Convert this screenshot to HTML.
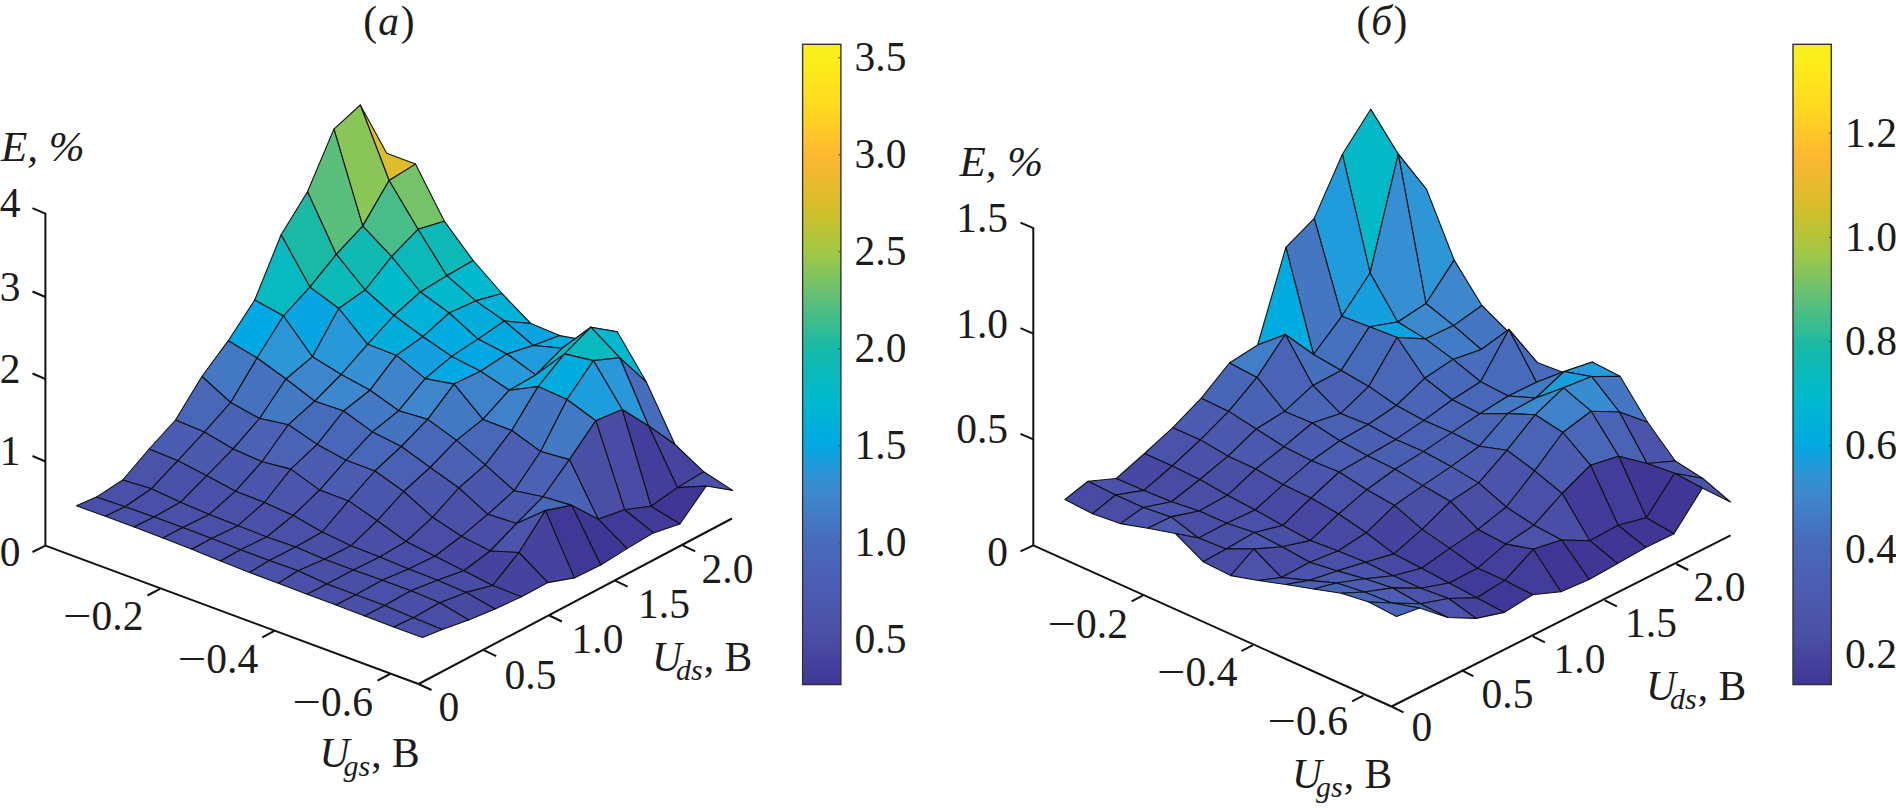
<!DOCTYPE html>
<html><head><meta charset="utf-8"><title>fig</title>
<style>html,body{margin:0;padding:0;background:#fff}svg{display:block}
text{font-family:"Liberation Serif",serif;font-size:41.5px;fill:#1c1c1c}</style></head><body>
<svg width="1896" height="810" viewBox="0 0 1896 810">
<defs><linearGradient id="ga" x1="0" y1="1" x2="0" y2="0"><stop offset="0.000" stop-color="rgb(63,54,149)"/><stop offset="0.025" stop-color="rgb(67,62,155)"/><stop offset="0.050" stop-color="rgb(71,70,160)"/><stop offset="0.075" stop-color="rgb(74,78,166)"/><stop offset="0.100" stop-color="rgb(75,83,169)"/><stop offset="0.125" stop-color="rgb(75,88,173)"/><stop offset="0.150" stop-color="rgb(76,93,177)"/><stop offset="0.175" stop-color="rgb(74,97,180)"/><stop offset="0.200" stop-color="rgb(73,102,183)"/><stop offset="0.225" stop-color="rgb(71,107,186)"/><stop offset="0.250" stop-color="rgb(68,117,193)"/><stop offset="0.275" stop-color="rgb(65,127,199)"/><stop offset="0.300" stop-color="rgb(60,137,206)"/><stop offset="0.325" stop-color="rgb(49,146,212)"/><stop offset="0.350" stop-color="rgb(26,157,220)"/><stop offset="0.375" stop-color="rgb(0,169,227)"/><stop offset="0.400" stop-color="rgb(0,174,219)"/><stop offset="0.425" stop-color="rgb(0,180,212)"/><stop offset="0.450" stop-color="rgb(1,185,204)"/><stop offset="0.475" stop-color="rgb(7,185,192)"/><stop offset="0.500" stop-color="rgb(14,185,180)"/><stop offset="0.525" stop-color="rgb(23,185,168)"/><stop offset="0.550" stop-color="rgb(46,187,153)"/><stop offset="0.575" stop-color="rgb(69,189,138)"/><stop offset="0.600" stop-color="rgb(93,190,123)"/><stop offset="0.625" stop-color="rgb(116,194,104)"/><stop offset="0.650" stop-color="rgb(139,197,86)"/><stop offset="0.675" stop-color="rgb(162,200,69)"/><stop offset="0.700" stop-color="rgb(180,196,59)"/><stop offset="0.725" stop-color="rgb(198,193,49)"/><stop offset="0.750" stop-color="rgb(216,190,40)"/><stop offset="0.775" stop-color="rgb(229,187,44)"/><stop offset="0.800" stop-color="rgb(241,184,47)"/><stop offset="0.825" stop-color="rgb(253,183,49)"/><stop offset="0.850" stop-color="rgb(254,194,43)"/><stop offset="0.875" stop-color="rgb(254,205,36)"/><stop offset="0.900" stop-color="rgb(255,216,30)"/><stop offset="0.925" stop-color="rgb(254,223,28)"/><stop offset="0.950" stop-color="rgb(253,231,27)"/><stop offset="0.975" stop-color="rgb(252,238,25)"/><stop offset="1.000" stop-color="rgb(248,240,30)"/></linearGradient></defs>
<rect width="1896" height="810" fill="#fff"/>
<g stroke="#111" stroke-width="2" stroke-linecap="butt" fill="none">
<line x1="45.4" y1="213.0" x2="45.4" y2="545.6"/>
<line x1="45.4" y1="213.6" x2="32.5" y2="208.1"/>
<line x1="45.4" y1="297.0" x2="32.5" y2="291.5"/>
<line x1="45.4" y1="379.0" x2="32.5" y2="373.5"/>
<line x1="45.4" y1="461.5" x2="32.5" y2="456.0"/>
<line x1="45.4" y1="545.6" x2="32.5" y2="552.0"/>
<line x1="45.4" y1="545.6" x2="418.6" y2="684.0"/>
<line x1="160.0" y1="588.9" x2="147.5" y2="595.5"/>
<line x1="274.8" y1="630.7" x2="262.3" y2="637.3"/>
<line x1="390.0" y1="674.0" x2="377.5" y2="680.6"/>
<line x1="418.6" y1="684.0" x2="431.5" y2="690.0"/>
<line x1="418.6" y1="684.0" x2="732.0" y2="518.5"/>
<line x1="483.7" y1="650.1" x2="496.2" y2="656.1"/>
<line x1="549.4" y1="615.5" x2="561.9" y2="621.5"/>
<line x1="615.1" y1="580.6" x2="627.6" y2="586.6"/>
<line x1="682.7" y1="545.3" x2="695.2" y2="551.3"/>
<line x1="1033.3" y1="227.5" x2="1033.3" y2="545.3"/>
<line x1="1033.3" y1="228.1" x2="1020.5" y2="222.6"/>
<line x1="1033.3" y1="333.7" x2="1020.5" y2="328.2"/>
<line x1="1033.3" y1="439.3" x2="1020.5" y2="433.8"/>
<line x1="1033.3" y1="545.3" x2="1020.5" y2="551.3"/>
<line x1="1033.3" y1="545.3" x2="1391.5" y2="706.5"/>
<line x1="1143.1" y1="595.4" x2="1131.6" y2="601.4"/>
<line x1="1252.9" y1="645.2" x2="1241.4" y2="651.2"/>
<line x1="1363.6" y1="695.4" x2="1352.1" y2="701.4"/>
<line x1="1391.5" y1="706.5" x2="1403.5" y2="712.4"/>
<line x1="1391.5" y1="706.5" x2="1730.6" y2="535.3"/>
<line x1="1461.3" y1="670.1" x2="1473.3" y2="676.1"/>
<line x1="1532.9" y1="636.3" x2="1544.9" y2="642.3"/>
<line x1="1604.8" y1="600.3" x2="1616.8" y2="606.3"/>
<line x1="1676.3" y1="564.0" x2="1688.3" y2="570.0"/>
</g>
<g stroke="#111" stroke-width="1.1" stroke-linejoin="round">
<polygon points="360.3,105.0 386.7,153.2 415.5,164.1 389.1,180.5" fill="rgb(223,188,42)"/>
<polygon points="333.9,129.1 360.3,105.0 389.1,180.5 362.7,226.1" fill="rgb(138,197,87)"/>
<polygon points="307.5,191.8 333.9,129.1 362.7,226.1 336.3,254.4" fill="rgb(90,190,125)"/>
<polygon points="281.1,234.8 307.5,191.8 336.3,254.4 309.9,287.1" fill="rgb(26,185,166)"/>
<polygon points="254.7,300.0 281.1,234.8 309.9,287.1 283.5,316.0" fill="rgb(7,185,193)"/>
<polygon points="228.3,340.7 254.7,300.0 283.5,316.0 257.1,358.0" fill="rgb(0,168,228)"/>
<polygon points="201.9,376.5 228.3,340.7 257.1,358.0 230.7,402.5" fill="rgb(67,121,195)"/>
<polygon points="175.5,420.0 201.9,376.5 230.7,402.5 204.3,432.1" fill="rgb(73,102,183)"/>
<polygon points="149.1,449.0 175.5,420.0 204.3,432.1 177.9,460.7" fill="rgb(76,93,177)"/>
<polygon points="122.7,480.0 149.1,449.0 177.9,460.7 151.5,488.7" fill="rgb(75,83,169)"/>
<polygon points="96.3,497.1 122.7,480.0 151.5,488.7 125.1,506.7" fill="rgb(74,80,167)"/>
<polygon points="76.5,505.8 96.3,497.1 125.1,506.7 105.3,516.3" fill="rgb(74,80,167)"/>
<polygon points="389.1,180.5 415.5,164.1 444.4,221.3 418.0,229.3" fill="rgb(117,194,104)"/>
<polygon points="362.7,226.1 389.1,180.5 418.0,229.3 391.6,256.6" fill="rgb(72,189,137)"/>
<polygon points="336.3,254.4 362.7,226.1 391.6,256.6 365.2,290.0" fill="rgb(16,185,177)"/>
<polygon points="309.9,287.1 336.3,254.4 365.2,290.0 338.8,308.5" fill="rgb(11,185,185)"/>
<polygon points="283.5,316.0 309.9,287.1 338.8,308.5 312.4,356.8" fill="rgb(8,165,226)"/>
<polygon points="257.1,358.0 283.5,316.0 312.4,356.8 286.0,379.0" fill="rgb(45,150,215)"/>
<polygon points="230.7,402.5 257.1,358.0 286.0,379.0 259.6,418.5" fill="rgb(69,113,191)"/>
<polygon points="204.3,432.1 230.7,402.5 259.6,418.5 233.2,448.9" fill="rgb(74,98,180)"/>
<polygon points="177.9,460.7 204.3,432.1 233.2,448.9 206.8,475.7" fill="rgb(76,90,174)"/>
<polygon points="151.5,488.7 177.9,460.7 206.8,475.7 180.4,502.3" fill="rgb(74,81,168)"/>
<polygon points="125.1,506.7 151.5,488.7 180.4,502.3 154.0,517.0" fill="rgb(74,80,167)"/>
<polygon points="105.3,516.3 125.1,506.7 154.0,517.0 134.2,527.0" fill="rgb(74,80,167)"/>
<polygon points="418.0,229.3 444.4,221.3 473.2,260.5 446.8,275.7" fill="rgb(13,185,182)"/>
<polygon points="391.6,256.6 418.0,229.3 446.8,275.7 420.4,292.0" fill="rgb(11,185,186)"/>
<polygon points="365.2,290.0 391.6,256.6 420.4,292.0 394.0,315.5" fill="rgb(2,185,202)"/>
<polygon points="338.8,308.5 365.2,290.0 394.0,315.5 367.6,344.3" fill="rgb(0,174,219)"/>
<polygon points="312.4,356.8 338.8,308.5 367.6,344.3 341.2,374.5" fill="rgb(39,152,217)"/>
<polygon points="286.0,379.0 312.4,356.8 341.2,374.5 314.8,401.2" fill="rgb(62,134,204)"/>
<polygon points="259.6,418.5 286.0,379.0 314.8,401.2 288.4,424.7" fill="rgb(67,120,195)"/>
<polygon points="233.2,448.9 259.6,418.5 288.4,424.7 262.0,461.7" fill="rgb(74,97,180)"/>
<polygon points="206.8,475.7 233.2,448.9 262.0,461.7 235.6,491.2" fill="rgb(75,87,172)"/>
<polygon points="180.4,502.3 206.8,475.7 235.6,491.2 209.2,514.4" fill="rgb(74,80,167)"/>
<polygon points="154.0,517.0 180.4,502.3 209.2,514.4 182.8,527.4" fill="rgb(74,80,168)"/>
<polygon points="134.2,527.0 154.0,517.0 182.8,527.4 163.0,538.0" fill="rgb(74,80,167)"/>
<polygon points="446.8,275.7 473.2,260.5 502.0,293.5 475.6,300.9" fill="rgb(0,185,206)"/>
<polygon points="420.4,292.0 446.8,275.7 475.6,300.9 449.2,313.0" fill="rgb(1,185,203)"/>
<polygon points="394.0,315.5 420.4,292.0 449.2,313.0 422.8,336.8" fill="rgb(0,178,215)"/>
<polygon points="367.6,344.3 394.0,315.5 422.8,336.8 396.4,355.4" fill="rgb(0,174,220)"/>
<polygon points="341.2,374.5 367.6,344.3 396.4,355.4 370.0,390.2" fill="rgb(51,145,212)"/>
<polygon points="314.8,401.2 341.2,374.5 370.0,390.2 343.6,411.0" fill="rgb(61,135,205)"/>
<polygon points="288.4,424.7 314.8,401.2 343.6,411.0 317.2,444.4" fill="rgb(71,107,187)"/>
<polygon points="262.0,461.7 288.4,424.7 317.2,444.4 290.8,469.1" fill="rgb(74,99,181)"/>
<polygon points="235.6,491.2 262.0,461.7 290.8,469.1 264.4,502.5" fill="rgb(75,86,172)"/>
<polygon points="209.2,514.4 235.6,491.2 264.4,502.5 238.0,525.7" fill="rgb(74,79,167)"/>
<polygon points="182.8,527.4 209.2,514.4 238.0,525.7 211.6,538.6" fill="rgb(74,80,167)"/>
<polygon points="163.0,538.0 182.8,527.4 211.6,538.6 191.8,549.3" fill="rgb(74,80,167)"/>
<polygon points="475.6,300.9 502.0,293.5 530.8,323.5 504.4,321.0" fill="rgb(0,177,216)"/>
<polygon points="449.2,313.0 475.6,300.9 504.4,321.0 478.0,339.1" fill="rgb(0,174,220)"/>
<polygon points="422.8,336.8 449.2,313.0 478.0,339.1 451.6,356.4" fill="rgb(0,171,224)"/>
<polygon points="396.4,355.4 422.8,336.8 451.6,356.4 425.2,378.6" fill="rgb(22,159,222)"/>
<polygon points="370.0,390.2 396.4,355.4 425.2,378.6 398.8,410.7" fill="rgb(63,132,203)"/>
<polygon points="343.6,411.0 370.0,390.2 398.8,410.7 372.4,431.9" fill="rgb(67,121,196)"/>
<polygon points="317.2,444.4 343.6,411.0 372.4,431.9 346.0,460.3" fill="rgb(73,103,184)"/>
<polygon points="290.8,469.1 317.2,444.4 346.0,460.3 319.6,490.1" fill="rgb(76,93,177)"/>
<polygon points="264.4,502.5 290.8,469.1 319.6,490.1 293.2,515.5" fill="rgb(75,85,171)"/>
<polygon points="238.0,525.7 264.4,502.5 293.2,515.5 266.8,537.0" fill="rgb(74,79,167)"/>
<polygon points="211.6,538.6 238.0,525.7 266.8,537.0 240.4,549.8" fill="rgb(74,80,167)"/>
<polygon points="191.8,549.3 211.6,538.6 240.4,549.8 220.6,561.0" fill="rgb(74,79,167)"/>
<polygon points="504.4,321.0 530.8,323.5 559.7,335.6 533.3,345.5" fill="rgb(12,163,225)"/>
<polygon points="478.0,339.1 504.4,321.0 533.3,345.5 506.9,354.0" fill="rgb(0,170,225)"/>
<polygon points="451.6,356.4 478.0,339.1 506.9,354.0 480.5,371.2" fill="rgb(2,167,227)"/>
<polygon points="425.2,378.6 451.6,356.4 480.5,371.2 454.1,384.1" fill="rgb(0,169,227)"/>
<polygon points="398.8,410.7 425.2,378.6 454.1,384.1 427.7,419.4" fill="rgb(62,135,205)"/>
<polygon points="372.4,431.9 398.8,410.7 427.7,419.4 401.3,446.5" fill="rgb(68,116,192)"/>
<polygon points="346.0,460.3 372.4,431.9 401.3,446.5 374.9,471.0" fill="rgb(73,103,184)"/>
<polygon points="319.6,490.1 346.0,460.3 374.9,471.0 348.5,500.9" fill="rgb(76,93,177)"/>
<polygon points="293.2,515.5 319.6,490.1 348.5,500.9 322.1,532.0" fill="rgb(74,81,168)"/>
<polygon points="266.8,537.0 293.2,515.5 322.1,532.0 295.7,547.0" fill="rgb(74,80,167)"/>
<polygon points="240.4,549.8 266.8,537.0 295.7,547.0 269.3,560.5" fill="rgb(74,80,167)"/>
<polygon points="220.6,561.0 240.4,549.8 269.3,560.5 249.5,572.5" fill="rgb(74,79,166)"/>
<polygon points="533.3,345.5 559.7,335.6 588.5,340.8 562.1,348.3" fill="rgb(0,173,222)"/>
<polygon points="506.9,354.0 533.3,345.5 562.1,348.3 535.7,374.9" fill="rgb(32,155,219)"/>
<polygon points="480.5,371.2 506.9,354.0 535.7,374.9 509.3,390.2" fill="rgb(39,153,217)"/>
<polygon points="454.1,384.1 480.5,371.2 509.3,390.2 482.9,419.4" fill="rgb(64,130,202)"/>
<polygon points="427.7,419.4 454.1,384.1 482.9,419.4 456.5,440.4" fill="rgb(67,120,195)"/>
<polygon points="401.3,446.5 427.7,419.4 456.5,440.4 430.1,467.5" fill="rgb(73,103,184)"/>
<polygon points="374.9,471.0 401.3,446.5 430.1,467.5 403.7,491.5" fill="rgb(74,97,179)"/>
<polygon points="348.5,500.9 374.9,471.0 403.7,491.5 377.3,520.7" fill="rgb(75,87,172)"/>
<polygon points="322.1,532.0 348.5,500.9 377.3,520.7 350.9,545.8" fill="rgb(74,78,166)"/>
<polygon points="295.7,547.0 322.1,532.0 350.9,545.8 324.5,559.3" fill="rgb(74,79,166)"/>
<polygon points="269.3,560.5 295.7,547.0 324.5,559.3 298.1,570.7" fill="rgb(74,81,168)"/>
<polygon points="249.5,572.5 269.3,560.5 298.1,570.7 278.3,583.3" fill="rgb(74,79,167)"/>
<polygon points="562.1,348.3 588.5,340.8 617.3,331.7 590.9,327.2" fill="rgb(16,185,177)"/>
<polygon points="535.7,374.9 562.1,348.3 590.9,327.2 564.5,353.9" fill="rgb(4,185,198)"/>
<polygon points="509.3,390.2 535.7,374.9 564.5,353.9 538.1,386.6" fill="rgb(0,173,221)"/>
<polygon points="482.9,419.4 509.3,390.2 538.1,386.6 511.7,430.5" fill="rgb(64,130,202)"/>
<polygon points="456.5,440.4 482.9,419.4 511.7,430.5 485.3,464.8" fill="rgb(73,103,184)"/>
<polygon points="430.1,467.5 456.5,440.4 485.3,464.8 458.9,488.0" fill="rgb(74,97,180)"/>
<polygon points="403.7,491.5 430.1,467.5 458.9,488.0 432.5,517.3" fill="rgb(75,87,172)"/>
<polygon points="377.3,520.7 403.7,491.5 432.5,517.3 406.1,541.5" fill="rgb(74,79,167)"/>
<polygon points="350.9,545.8 377.3,520.7 406.1,541.5 379.7,557.0" fill="rgb(74,78,166)"/>
<polygon points="324.5,559.3 350.9,545.8 379.7,557.0 353.3,570.0" fill="rgb(74,79,166)"/>
<polygon points="298.1,570.7 324.5,559.3 353.3,570.0 326.9,584.1" fill="rgb(74,79,166)"/>
<polygon points="278.3,583.3 298.1,570.7 326.9,584.1 307.1,594.2" fill="rgb(74,79,167)"/>
<polygon points="590.9,327.2 617.3,331.7 646.2,381.8 619.8,357.8" fill="rgb(0,183,208)"/>
<polygon points="564.5,353.9 590.9,327.2 619.8,357.8 593.4,360.6" fill="rgb(8,185,191)"/>
<polygon points="538.1,386.6 564.5,353.9 593.4,360.6 567.0,399.5" fill="rgb(0,171,224)"/>
<polygon points="511.7,430.5 538.1,386.6 567.0,399.5 540.6,451.5" fill="rgb(68,116,192)"/>
<polygon points="485.3,464.8 511.7,430.5 540.6,451.5 514.2,490.7" fill="rgb(75,94,177)"/>
<polygon points="458.9,488.0 485.3,464.8 514.2,490.7 487.8,514.3" fill="rgb(75,87,172)"/>
<polygon points="432.5,517.3 458.9,488.0 487.8,514.3 461.4,536.3" fill="rgb(75,81,168)"/>
<polygon points="406.1,541.5 432.5,517.3 461.4,536.3 435.0,556.2" fill="rgb(74,76,165)"/>
<polygon points="379.7,557.0 406.1,541.5 435.0,556.2 408.6,569.1" fill="rgb(74,77,165)"/>
<polygon points="353.3,570.0 379.7,557.0 408.6,569.1 382.2,580.3" fill="rgb(74,79,167)"/>
<polygon points="326.9,584.1 353.3,570.0 382.2,580.3 355.8,594.7" fill="rgb(74,79,166)"/>
<polygon points="307.1,594.2 326.9,584.1 355.8,594.7 336.0,604.9" fill="rgb(74,79,167)"/>
<polygon points="619.8,357.8 646.2,381.8 675.0,444.5 648.6,426.0" fill="rgb(71,108,187)"/>
<polygon points="593.4,360.6 619.8,357.8 648.6,426.0 622.2,409.5" fill="rgb(41,152,216)"/>
<polygon points="567.0,399.5 593.4,360.6 622.2,409.5 595.8,420.7" fill="rgb(29,157,220)"/>
<polygon points="540.6,451.5 567.0,399.5 595.8,420.7 569.4,459.6" fill="rgb(67,120,195)"/>
<polygon points="514.2,490.7 540.6,451.5 569.4,459.6 543.0,496.8" fill="rgb(75,97,179)"/>
<polygon points="487.8,514.3 514.2,490.7 543.0,496.8 516.6,523.5" fill="rgb(75,88,173)"/>
<polygon points="461.4,536.3 487.8,514.3 516.6,523.5 490.2,551.0" fill="rgb(74,78,166)"/>
<polygon points="435.0,556.2 461.4,536.3 490.2,551.0 463.8,570.8" fill="rgb(72,72,162)"/>
<polygon points="408.6,569.1 435.0,556.2 463.8,570.8 437.4,580.3" fill="rgb(74,77,165)"/>
<polygon points="382.2,580.3 408.6,569.1 437.4,580.3 411.0,590.7" fill="rgb(74,80,167)"/>
<polygon points="355.8,594.7 382.2,580.3 411.0,590.7 384.6,605.4" fill="rgb(74,79,167)"/>
<polygon points="336.0,604.9 355.8,594.7 384.6,605.4 364.8,616.1" fill="rgb(74,79,166)"/>
<polygon points="648.6,426.0 675.0,444.5 703.8,471.8 677.4,487.6" fill="rgb(70,68,159)"/>
<polygon points="622.2,409.5 648.6,426.0 677.4,487.6 651.0,506.3" fill="rgb(67,62,155)"/>
<polygon points="595.8,420.7 622.2,409.5 651.0,506.3 624.6,509.7" fill="rgb(73,75,164)"/>
<polygon points="569.4,459.6 595.8,420.7 624.6,509.7 598.2,519.2" fill="rgb(74,79,166)"/>
<polygon points="543.0,496.8 569.4,459.6 598.2,519.2 571.8,505.4" fill="rgb(74,98,180)"/>
<polygon points="516.6,523.5 543.0,496.8 571.8,505.4 545.4,510.6" fill="rgb(72,104,184)"/>
<polygon points="490.2,551.0 516.6,523.5 545.4,510.6 519.0,552.5" fill="rgb(75,85,171)"/>
<polygon points="463.8,570.8 490.2,551.0 519.0,552.5 492.6,585.5" fill="rgb(69,67,158)"/>
<polygon points="437.4,580.3 463.8,570.8 492.6,585.5 466.2,592.4" fill="rgb(73,76,164)"/>
<polygon points="411.0,590.7 437.4,580.3 466.2,592.4 439.8,602.8" fill="rgb(74,79,166)"/>
<polygon points="384.6,605.4 411.0,590.7 439.8,602.8 413.4,617.8" fill="rgb(74,78,166)"/>
<polygon points="364.8,616.1 384.6,605.4 413.4,617.8 393.6,627.0" fill="rgb(74,79,166)"/>
<polygon points="677.4,487.6 703.8,471.8 732.7,490.4 706.3,486.0" fill="rgb(74,81,168)"/>
<polygon points="651.0,506.3 677.4,487.6 706.3,486.0 679.9,524.0" fill="rgb(63,54,149)"/>
<polygon points="624.6,509.7 651.0,506.3 679.9,524.0 653.5,532.9" fill="rgb(66,60,153)"/>
<polygon points="598.2,519.2 624.6,509.7 653.5,532.9 627.1,548.6" fill="rgb(65,58,152)"/>
<polygon points="571.8,505.4 598.2,519.2 627.1,548.6 600.7,565.0" fill="rgb(63,55,150)"/>
<polygon points="545.4,510.6 571.8,505.4 600.7,565.0 574.3,577.9" fill="rgb(64,56,151)"/>
<polygon points="519.0,552.5 545.4,510.6 574.3,577.9 547.9,582.6" fill="rgb(69,67,158)"/>
<polygon points="492.6,585.5 519.0,552.5 547.9,582.6 521.5,596.7" fill="rgb(69,67,158)"/>
<polygon points="466.2,592.4 492.6,585.5 521.5,596.7 495.1,609.0" fill="rgb(70,69,159)"/>
<polygon points="439.8,602.8 466.2,592.4 495.1,609.0 468.7,620.0" fill="rgb(72,73,162)"/>
<polygon points="413.4,617.8 439.8,602.8 468.7,620.0 442.3,629.5" fill="rgb(74,77,165)"/>
<polygon points="393.6,627.0 413.4,617.8 442.3,629.5 422.5,637.4" fill="rgb(74,79,167)"/>
</g>
<g stroke="#111" stroke-width="1.1" stroke-linejoin="round">
<polygon points="1370.7,109.3 1399.0,170.0 1426.6,189.5 1398.3,154.2" fill="rgb(254,199,40)"/>
<polygon points="1342.4,154.2 1370.7,109.3 1398.3,154.2 1370.1,273.0" fill="rgb(3,185,200)"/>
<polygon points="1314.2,218.4 1342.4,154.2 1370.1,273.0 1341.8,316.3" fill="rgb(32,155,219)"/>
<polygon points="1285.9,247.3 1314.2,218.4 1341.8,316.3 1313.5,354.5" fill="rgb(68,118,194)"/>
<polygon points="1257.6,345.0 1285.9,247.3 1313.5,354.5 1285.3,334.5" fill="rgb(0,171,224)"/>
<polygon points="1229.4,363.0 1257.6,345.0 1285.3,334.5 1257.0,377.4" fill="rgb(65,126,199)"/>
<polygon points="1201.1,398.3 1229.4,363.0 1257.0,377.4 1228.7,411.4" fill="rgb(73,101,182)"/>
<polygon points="1172.8,427.7 1201.1,398.3 1228.7,411.4 1200.4,439.9" fill="rgb(76,91,176)"/>
<polygon points="1144.5,453.5 1172.8,427.7 1200.4,439.9 1172.2,466.0" fill="rgb(75,82,169)"/>
<polygon points="1116.3,478.5 1144.5,453.5 1172.2,466.0 1143.9,490.4" fill="rgb(72,72,162)"/>
<polygon points="1088.0,481.3 1116.3,478.5 1143.9,490.4 1115.6,495.0" fill="rgb(75,82,168)"/>
<polygon points="1064.9,499.5 1088.0,481.3 1115.6,495.0 1092.5,513.7" fill="rgb(73,74,163)"/>
<polygon points="1398.3,154.2 1426.6,189.5 1454.2,260.1 1426.0,303.5" fill="rgb(46,150,215)"/>
<polygon points="1370.1,273.0 1398.3,154.2 1426.0,303.5 1397.7,322.0" fill="rgb(53,143,210)"/>
<polygon points="1341.8,316.3 1370.1,273.0 1397.7,322.0 1369.4,326.8" fill="rgb(22,159,222)"/>
<polygon points="1313.5,354.5 1341.8,316.3 1369.4,326.8 1341.2,370.4" fill="rgb(69,113,190)"/>
<polygon points="1285.3,334.5 1313.5,354.5 1341.2,370.4 1312.9,385.4" fill="rgb(70,111,189)"/>
<polygon points="1257.0,377.4 1285.3,334.5 1312.9,385.4 1284.6,411.4" fill="rgb(74,100,181)"/>
<polygon points="1228.7,411.4 1257.0,377.4 1284.6,411.4 1256.3,429.0" fill="rgb(74,98,180)"/>
<polygon points="1200.4,439.9 1228.7,411.4 1256.3,429.0 1228.1,456.2" fill="rgb(76,88,173)"/>
<polygon points="1172.2,466.0 1200.4,439.9 1228.1,456.2 1199.8,479.5" fill="rgb(75,81,168)"/>
<polygon points="1143.9,490.4 1172.2,466.0 1199.8,479.5 1171.5,501.8" fill="rgb(73,74,163)"/>
<polygon points="1115.6,495.0 1143.9,490.4 1171.5,501.8 1143.3,507.5" fill="rgb(75,82,168)"/>
<polygon points="1092.5,513.7 1115.6,495.0 1143.3,507.5 1120.2,523.6" fill="rgb(74,77,165)"/>
<polygon points="1426.0,303.5 1454.2,260.1 1481.9,305.5 1453.6,325.6" fill="rgb(62,135,205)"/>
<polygon points="1397.7,322.0 1426.0,303.5 1453.6,325.6 1425.3,338.9" fill="rgb(60,137,206)"/>
<polygon points="1369.4,326.8 1397.7,322.0 1425.3,338.9 1397.1,337.5" fill="rgb(14,163,224)"/>
<polygon points="1341.2,370.4 1369.4,326.8 1397.1,337.5 1368.8,386.4" fill="rgb(71,107,187)"/>
<polygon points="1312.9,385.4 1341.2,370.4 1368.8,386.4 1340.5,413.6" fill="rgb(74,97,180)"/>
<polygon points="1284.6,411.4 1312.9,385.4 1340.5,413.6 1312.2,423.0" fill="rgb(73,101,182)"/>
<polygon points="1256.3,429.0 1284.6,411.4 1312.2,423.0 1284.0,446.7" fill="rgb(75,94,177)"/>
<polygon points="1228.1,456.2 1256.3,429.0 1284.0,446.7 1255.7,469.0" fill="rgb(75,88,173)"/>
<polygon points="1199.8,479.5 1228.1,456.2 1255.7,469.0 1227.4,495.3" fill="rgb(74,79,166)"/>
<polygon points="1171.5,501.8 1199.8,479.5 1227.4,495.3 1199.2,511.0" fill="rgb(74,78,165)"/>
<polygon points="1143.3,507.5 1171.5,501.8 1199.2,511.0 1170.9,516.9" fill="rgb(75,84,170)"/>
<polygon points="1120.2,523.6 1143.3,507.5 1170.9,516.9 1147.8,528.2" fill="rgb(75,83,170)"/>
<polygon points="1453.6,325.6 1481.9,305.5 1509.5,333.0 1481.2,349.5" fill="rgb(68,118,194)"/>
<polygon points="1425.3,338.9 1453.6,325.6 1481.2,349.5 1453.0,359.4" fill="rgb(66,124,198)"/>
<polygon points="1397.1,337.5 1425.3,338.9 1453.0,359.4 1424.7,378.3" fill="rgb(68,117,193)"/>
<polygon points="1368.8,386.4 1397.1,337.5 1424.7,378.3 1396.4,405.5" fill="rgb(73,102,183)"/>
<polygon points="1340.5,413.6 1368.8,386.4 1396.4,405.5 1368.1,424.5" fill="rgb(74,98,180)"/>
<polygon points="1312.2,423.0 1340.5,413.6 1368.1,424.5 1339.9,440.8" fill="rgb(74,97,179)"/>
<polygon points="1284.0,446.7 1312.2,423.0 1339.9,440.8 1311.6,460.7" fill="rgb(76,93,177)"/>
<polygon points="1255.7,469.0 1284.0,446.7 1311.6,460.7 1283.3,484.7" fill="rgb(75,86,171)"/>
<polygon points="1227.4,495.3 1255.7,469.0 1283.3,484.7 1255.1,510.0" fill="rgb(74,77,165)"/>
<polygon points="1199.2,511.0 1227.4,495.3 1255.1,510.0 1226.8,523.2" fill="rgb(74,78,166)"/>
<polygon points="1170.9,516.9 1199.2,511.0 1226.8,523.2 1198.5,538.0" fill="rgb(74,77,165)"/>
<polygon points="1147.8,528.2 1170.9,516.9 1198.5,538.0 1175.4,533.5" fill="rgb(76,89,174)"/>
<polygon points="1481.2,349.5 1509.5,333.0 1537.1,362.4 1508.9,329.4" fill="rgb(0,170,226)"/>
<polygon points="1453.0,359.4 1481.2,349.5 1508.9,329.4 1480.6,381.8" fill="rgb(71,109,188)"/>
<polygon points="1424.7,378.3 1453.0,359.4 1480.6,381.8 1452.3,399.7" fill="rgb(72,104,185)"/>
<polygon points="1396.4,405.5 1424.7,378.3 1452.3,399.7 1424.0,420.4" fill="rgb(74,100,182)"/>
<polygon points="1368.1,424.5 1396.4,405.5 1424.0,420.4 1395.8,439.4" fill="rgb(75,97,179)"/>
<polygon points="1339.9,440.8 1368.1,424.5 1395.8,439.4 1367.5,455.7" fill="rgb(75,95,178)"/>
<polygon points="1311.6,460.7 1339.9,440.8 1367.5,455.7 1339.2,472.0" fill="rgb(75,94,177)"/>
<polygon points="1283.3,484.7 1311.6,460.7 1339.2,472.0 1311.0,498.0" fill="rgb(75,85,171)"/>
<polygon points="1255.1,510.0 1283.3,484.7 1311.0,498.0 1282.7,525.5" fill="rgb(72,73,163)"/>
<polygon points="1226.8,523.2 1255.1,510.0 1282.7,525.5 1254.4,532.5" fill="rgb(74,80,167)"/>
<polygon points="1198.5,538.0 1226.8,523.2 1254.4,532.5 1226.2,548.9" fill="rgb(74,79,166)"/>
<polygon points="1175.4,533.5 1198.5,538.0 1226.2,548.9 1203.1,561.7" fill="rgb(74,77,165)"/>
<polygon points="1508.9,329.4 1537.1,362.4 1564.8,373.0 1536.5,382.3" fill="rgb(72,106,186)"/>
<polygon points="1480.6,381.8 1508.9,329.4 1536.5,382.3 1508.2,396.0" fill="rgb(71,107,186)"/>
<polygon points="1452.3,399.7 1480.6,381.8 1508.2,396.0 1479.9,413.8" fill="rgb(73,103,184)"/>
<polygon points="1424.0,420.4 1452.3,399.7 1479.9,413.8 1451.7,432.6" fill="rgb(73,100,182)"/>
<polygon points="1395.8,439.4 1424.0,420.4 1451.7,432.6 1423.4,451.6" fill="rgb(74,97,179)"/>
<polygon points="1367.5,455.7 1395.8,439.4 1423.4,451.6 1395.1,469.3" fill="rgb(75,95,178)"/>
<polygon points="1339.2,472.0 1367.5,455.7 1395.1,469.3 1366.9,489.7" fill="rgb(76,90,175)"/>
<polygon points="1311.0,498.0 1339.2,472.0 1366.9,489.7 1338.6,514.0" fill="rgb(75,82,169)"/>
<polygon points="1282.7,525.5 1311.0,498.0 1338.6,514.0 1310.3,540.6" fill="rgb(71,70,160)"/>
<polygon points="1254.4,532.5 1282.7,525.5 1310.3,540.6 1282.1,546.8" fill="rgb(74,79,166)"/>
<polygon points="1226.2,548.9 1254.4,532.5 1282.1,546.8 1253.8,549.0" fill="rgb(75,88,173)"/>
<polygon points="1203.1,561.7 1226.2,548.9 1253.8,549.0 1230.7,575.6" fill="rgb(73,75,164)"/>
<polygon points="1536.5,382.3 1564.8,373.0 1592.4,362.0 1564.1,371.5" fill="rgb(55,141,209)"/>
<polygon points="1508.2,396.0 1536.5,382.3 1564.1,371.5 1535.8,398.0" fill="rgb(66,123,197)"/>
<polygon points="1479.9,413.8 1508.2,396.0 1535.8,398.0 1507.6,413.5" fill="rgb(67,121,195)"/>
<polygon points="1451.7,432.6 1479.9,413.8 1507.6,413.5 1479.3,446.2" fill="rgb(74,100,181)"/>
<polygon points="1423.4,451.6 1451.7,432.6 1479.3,446.2 1451.0,466.6" fill="rgb(75,95,178)"/>
<polygon points="1395.1,469.3 1423.4,451.6 1451.0,466.6 1422.8,485.6" fill="rgb(76,92,176)"/>
<polygon points="1366.9,489.7 1395.1,469.3 1422.8,485.6 1394.5,505.5" fill="rgb(75,88,173)"/>
<polygon points="1338.6,514.0 1366.9,489.7 1394.5,505.5 1366.2,532.8" fill="rgb(74,78,165)"/>
<polygon points="1310.3,540.6 1338.6,514.0 1366.2,532.8 1338.0,551.0" fill="rgb(72,73,162)"/>
<polygon points="1282.1,546.8 1310.3,540.6 1338.0,551.0 1309.7,562.2" fill="rgb(74,77,165)"/>
<polygon points="1253.8,549.0 1282.1,546.8 1309.7,562.2 1281.4,577.5" fill="rgb(73,75,164)"/>
<polygon points="1230.7,575.6 1253.8,549.0 1281.4,577.5 1258.3,580.5" fill="rgb(75,82,168)"/>
<polygon points="1564.1,371.5 1592.4,362.0 1620.0,376.2 1591.7,376.6" fill="rgb(37,153,217)"/>
<polygon points="1535.8,398.0 1564.1,371.5 1591.7,376.6 1563.5,387.8" fill="rgb(23,159,221)"/>
<polygon points="1507.6,413.5 1535.8,398.0 1563.5,387.8 1535.2,414.8" fill="rgb(59,138,207)"/>
<polygon points="1479.3,446.2 1507.6,413.5 1535.2,414.8 1506.9,450.3" fill="rgb(72,105,185)"/>
<polygon points="1451.0,466.6 1479.3,446.2 1506.9,450.3 1478.7,482.9" fill="rgb(76,93,177)"/>
<polygon points="1422.8,485.6 1451.0,466.6 1478.7,482.9 1450.4,501.5" fill="rgb(76,89,174)"/>
<polygon points="1394.5,505.5 1422.8,485.6 1450.4,501.5 1422.1,529.4" fill="rgb(74,79,166)"/>
<polygon points="1366.2,532.8 1394.5,505.5 1422.1,529.4 1393.9,553.9" fill="rgb(69,67,158)"/>
<polygon points="1338.0,551.0 1366.2,532.8 1393.9,553.9 1365.6,562.2" fill="rgb(73,74,163)"/>
<polygon points="1309.7,562.2 1338.0,551.0 1365.6,562.2 1337.3,570.9" fill="rgb(74,80,167)"/>
<polygon points="1281.4,577.5 1309.7,562.2 1337.3,570.9 1309.0,580.4" fill="rgb(75,83,170)"/>
<polygon points="1258.3,580.5 1281.4,577.5 1309.0,580.4 1285.9,584.5" fill="rgb(76,88,173)"/>
<polygon points="1591.7,376.6 1620.0,376.2 1647.6,422.3 1619.4,412.0" fill="rgb(68,118,194)"/>
<polygon points="1563.5,387.8 1591.7,376.6 1619.4,412.0 1591.1,411.2" fill="rgb(56,141,209)"/>
<polygon points="1535.2,414.8 1563.5,387.8 1591.1,411.2 1562.8,432.5" fill="rgb(64,130,202)"/>
<polygon points="1506.9,450.3 1535.2,414.8 1562.8,432.5 1534.6,470.8" fill="rgb(74,100,181)"/>
<polygon points="1478.7,482.9 1506.9,450.3 1534.6,470.8 1506.3,507.0" fill="rgb(75,84,170)"/>
<polygon points="1450.4,501.5 1478.7,482.9 1506.3,507.0 1478.0,529.4" fill="rgb(74,78,165)"/>
<polygon points="1422.1,529.4 1450.4,501.5 1478.0,529.4 1449.8,548.4" fill="rgb(72,72,161)"/>
<polygon points="1393.9,553.9 1422.1,529.4 1449.8,548.4 1421.5,568.3" fill="rgb(68,65,156)"/>
<polygon points="1365.6,562.2 1393.9,553.9 1421.5,568.3 1393.2,575.7" fill="rgb(72,73,162)"/>
<polygon points="1337.3,570.9 1365.6,562.2 1393.2,575.7 1364.9,578.7" fill="rgb(75,83,170)"/>
<polygon points="1309.0,580.4 1337.3,570.9 1364.9,578.7 1336.7,583.0" fill="rgb(76,91,175)"/>
<polygon points="1285.9,584.5 1309.0,580.4 1336.7,583.0 1313.6,589.0" fill="rgb(75,94,177)"/>
<polygon points="1619.4,412.0 1647.6,422.3 1675.3,461.0 1647.0,463.5" fill="rgb(75,83,170)"/>
<polygon points="1591.1,411.2 1619.4,412.0 1647.0,463.5 1618.7,456.3" fill="rgb(74,99,181)"/>
<polygon points="1562.8,432.5 1591.1,411.2 1618.7,456.3 1590.5,465.2" fill="rgb(73,102,183)"/>
<polygon points="1534.6,470.8 1562.8,432.5 1590.5,465.2 1562.2,493.5" fill="rgb(76,93,177)"/>
<polygon points="1506.3,507.0 1534.6,470.8 1562.2,493.5 1533.9,525.2" fill="rgb(74,80,167)"/>
<polygon points="1478.0,529.4 1506.3,507.0 1533.9,525.2 1505.7,544.1" fill="rgb(73,75,164)"/>
<polygon points="1449.8,548.4 1478.0,529.4 1505.7,544.1 1477.4,568.3" fill="rgb(67,62,155)"/>
<polygon points="1421.5,568.3 1449.8,548.4 1477.4,568.3 1449.1,583.0" fill="rgb(67,62,154)"/>
<polygon points="1393.2,575.7 1421.5,568.3 1449.1,583.0 1420.8,588.2" fill="rgb(72,73,162)"/>
<polygon points="1364.9,578.7 1393.2,575.7 1420.8,588.2 1392.6,587.9" fill="rgb(75,86,171)"/>
<polygon points="1336.7,583.0 1364.9,578.7 1392.6,587.9 1364.3,592.0" fill="rgb(76,93,177)"/>
<polygon points="1313.6,589.0 1336.7,583.0 1364.3,592.0 1341.2,593.3" fill="rgb(74,100,181)"/>
<polygon points="1647.0,463.5 1675.3,461.0 1702.9,478.5 1674.6,473.3" fill="rgb(75,86,171)"/>
<polygon points="1618.7,456.3 1647.0,463.5 1674.6,473.3 1646.4,517.8" fill="rgb(63,54,149)"/>
<polygon points="1590.5,465.2 1618.7,456.3 1646.4,517.8 1618.1,525.2" fill="rgb(66,61,154)"/>
<polygon points="1562.2,493.5 1590.5,465.2 1618.1,525.2 1589.8,540.7" fill="rgb(66,59,153)"/>
<polygon points="1533.9,525.2 1562.2,493.5 1589.8,540.7 1561.6,540.0" fill="rgb(74,78,166)"/>
<polygon points="1505.7,544.1 1533.9,525.2 1561.6,540.0 1533.3,549.3" fill="rgb(75,82,168)"/>
<polygon points="1477.4,568.3 1505.7,544.1 1533.3,549.3 1505.0,580.4" fill="rgb(67,63,155)"/>
<polygon points="1449.1,583.0 1477.4,568.3 1505.0,580.4 1476.7,597.7" fill="rgb(65,59,152)"/>
<polygon points="1420.8,588.2 1449.1,583.0 1476.7,597.7 1448.5,598.5" fill="rgb(73,76,164)"/>
<polygon points="1392.6,587.9 1420.8,588.2 1448.5,598.5 1420.2,603.7" fill="rgb(75,83,170)"/>
<polygon points="1364.3,592.0 1392.6,587.9 1420.2,603.7 1391.9,603.0" fill="rgb(75,94,178)"/>
<polygon points="1341.2,593.3 1364.3,592.0 1391.9,603.0 1368.8,602.0" fill="rgb(73,102,183)"/>
<polygon points="1674.6,473.3 1702.9,478.5 1730.5,502.0 1702.3,488.1" fill="rgb(75,84,170)"/>
<polygon points="1646.4,517.8 1674.6,473.3 1702.3,488.1 1674.0,533.8" fill="rgb(63,54,149)"/>
<polygon points="1618.1,525.2 1646.4,517.8 1674.0,533.8 1645.7,547.4" fill="rgb(63,54,149)"/>
<polygon points="1589.8,540.7 1618.1,525.2 1645.7,547.4 1617.5,563.5" fill="rgb(63,54,149)"/>
<polygon points="1561.6,540.0 1589.8,540.7 1617.5,563.5 1589.2,579.5" fill="rgb(63,54,149)"/>
<polygon points="1533.3,549.3 1561.6,540.0 1589.2,579.5 1560.9,591.7" fill="rgb(63,54,149)"/>
<polygon points="1505.0,580.4 1533.3,549.3 1560.9,591.7 1532.6,594.7" fill="rgb(66,61,154)"/>
<polygon points="1476.7,597.7 1505.0,580.4 1532.6,594.7 1504.4,612.4" fill="rgb(64,56,151)"/>
<polygon points="1448.5,598.5 1476.7,597.7 1504.4,612.4 1476.1,618.4" fill="rgb(69,67,158)"/>
<polygon points="1420.2,603.7 1448.5,598.5 1476.1,618.4 1447.8,617.5" fill="rgb(75,82,169)"/>
<polygon points="1391.9,603.0 1420.2,603.7 1447.8,617.5 1419.6,608.0" fill="rgb(74,99,181)"/>
<polygon points="1368.8,602.0 1391.9,603.0 1419.6,608.0 1396.5,616.5" fill="rgb(73,101,182)"/>
</g>
<rect x="802.6" y="44.3" width="38.3" height="640.3" fill="url(#ga)" stroke="#333" stroke-width="1.4"/>
<line x1="838.4" y1="57.8" x2="840.9" y2="57.8" stroke="#444" stroke-width="1"/>
<line x1="838.4" y1="154.8" x2="840.9" y2="154.8" stroke="#444" stroke-width="1"/>
<line x1="838.4" y1="251.8" x2="840.9" y2="251.8" stroke="#444" stroke-width="1"/>
<line x1="838.4" y1="348.8" x2="840.9" y2="348.8" stroke="#444" stroke-width="1"/>
<line x1="838.4" y1="445.8" x2="840.9" y2="445.8" stroke="#444" stroke-width="1"/>
<line x1="838.4" y1="542.8" x2="840.9" y2="542.8" stroke="#444" stroke-width="1"/>
<line x1="838.4" y1="639.8" x2="840.9" y2="639.8" stroke="#444" stroke-width="1"/>
<rect x="1793" y="44.3" width="38.3" height="640.3" fill="url(#ga)" stroke="#333" stroke-width="1.4"/>
<line x1="1828.8" y1="133.2" x2="1831.3" y2="133.2" stroke="#444" stroke-width="1"/>
<line x1="1828.8" y1="237.4" x2="1831.3" y2="237.4" stroke="#444" stroke-width="1"/>
<line x1="1828.8" y1="341.6" x2="1831.3" y2="341.6" stroke="#444" stroke-width="1"/>
<line x1="1828.8" y1="445.8" x2="1831.3" y2="445.8" stroke="#444" stroke-width="1"/>
<line x1="1828.8" y1="550.0" x2="1831.3" y2="550.0" stroke="#444" stroke-width="1"/>
<line x1="1828.8" y1="654.2" x2="1831.3" y2="654.2" stroke="#444" stroke-width="1"/>
<text x="363.3" y="34.5"><tspan>(</tspan><tspan style="font-style:italic" dx="1.2">а</tspan><tspan dx="1.6">)</tspan></text>
<text x="1.0" y="161.0" text-anchor="start" style="font-style:italic;font-size:43px;">E, %</text>
<text x="20.5" y="217.3" text-anchor="end" style="">4</text>
<text x="20.5" y="300.5" text-anchor="end" style="">3</text>
<text x="20.5" y="382.7" text-anchor="end" style="">2</text>
<text x="20.5" y="465.3" text-anchor="end" style="">1</text>
<text x="20.5" y="565.5" text-anchor="end" style="">0</text>
<text x="63.0" y="630.4"><tspan textLength="28.5" lengthAdjust="spacingAndGlyphs">−</tspan>0.2</text>
<text x="177.8" y="673.0"><tspan textLength="28.5" lengthAdjust="spacingAndGlyphs">−</tspan>0.4</text>
<text x="292.6" y="715.6"><tspan textLength="28.5" lengthAdjust="spacingAndGlyphs">−</tspan>0.6</text>
<text x="438.5" y="721.4" text-anchor="start" style="">0</text>
<text x="504.5" y="688.5" text-anchor="start" style="">0.5</text>
<text x="571.5" y="652.9" text-anchor="start" style="">1.0</text>
<text x="638.0" y="618.3" text-anchor="start" style="">1.5</text>
<text x="701.5" y="582.7" text-anchor="start" style="">2.0</text>
<text x="319.5" y="766.9"><tspan style="font-style:italic">U</tspan><tspan style="font-style:italic;font-size:30px" dx="-6" dy="9">gs</tspan><tspan dx="1" dy="-9">, В</tspan></text>
<text x="652" y="670.6"><tspan style="font-style:italic">U</tspan><tspan style="font-style:italic;font-size:30px" dx="-6" dy="9">ds</tspan><tspan dx="1" dy="-9">, В</tspan></text>
<text x="854.5" y="71.2" text-anchor="start" style="">3.5</text>
<text x="854.5" y="168.2" text-anchor="start" style="">3.0</text>
<text x="854.5" y="265.2" text-anchor="start" style="">2.5</text>
<text x="854.5" y="362.2" text-anchor="start" style="">2.0</text>
<text x="854.5" y="459.2" text-anchor="start" style="">1.5</text>
<text x="854.5" y="556.2" text-anchor="start" style="">1.0</text>
<text x="854.5" y="653.2" text-anchor="start" style="">0.5</text>
<text x="1356.5" y="34.5"><tspan>(</tspan><tspan style="font-style:italic" dx="1">б</tspan><tspan dx="1.3">)</tspan></text>
<text x="959.5" y="176.0" text-anchor="start" style="font-style:italic;font-size:43px;">E, %</text>
<text x="1008.0" y="232.0" text-anchor="end" style="">1.5</text>
<text x="1008.0" y="338.0" text-anchor="end" style="">1.0</text>
<text x="1008.0" y="443.3" text-anchor="end" style="">0.5</text>
<text x="1008.0" y="566.0" text-anchor="end" style="">0</text>
<text x="1047.5" y="637.5"><tspan textLength="28.5" lengthAdjust="spacingAndGlyphs">−</tspan>0.2</text>
<text x="1157.0" y="686.0"><tspan textLength="28.5" lengthAdjust="spacingAndGlyphs">−</tspan>0.4</text>
<text x="1267.5" y="735.0"><tspan textLength="28.5" lengthAdjust="spacingAndGlyphs">−</tspan>0.6</text>
<text x="1411.5" y="741.0" text-anchor="start" style="">0</text>
<text x="1481.5" y="707.5" text-anchor="start" style="">0.5</text>
<text x="1553.5" y="672.5" text-anchor="start" style="">1.0</text>
<text x="1625.0" y="636.5" text-anchor="start" style="">1.5</text>
<text x="1693.5" y="601.0" text-anchor="start" style="">2.0</text>
<text x="1292" y="787.8"><tspan style="font-style:italic">U</tspan><tspan style="font-style:italic;font-size:30px" dx="-6" dy="9">gs</tspan><tspan dx="1" dy="-9">, В</tspan></text>
<text x="1646" y="700.3"><tspan style="font-style:italic">U</tspan><tspan style="font-style:italic;font-size:30px" dx="-6" dy="9">ds</tspan><tspan dx="1" dy="-9">, В</tspan></text>
<text x="1845.0" y="146.5" text-anchor="start" style="">1.2</text>
<text x="1845.0" y="250.7" text-anchor="start" style="">1.0</text>
<text x="1845.0" y="354.9" text-anchor="start" style="">0.8</text>
<text x="1845.0" y="459.1" text-anchor="start" style="">0.6</text>
<text x="1845.0" y="563.3" text-anchor="start" style="">0.4</text>
<text x="1845.0" y="667.5" text-anchor="start" style="">0.2</text>
</svg></body></html>
